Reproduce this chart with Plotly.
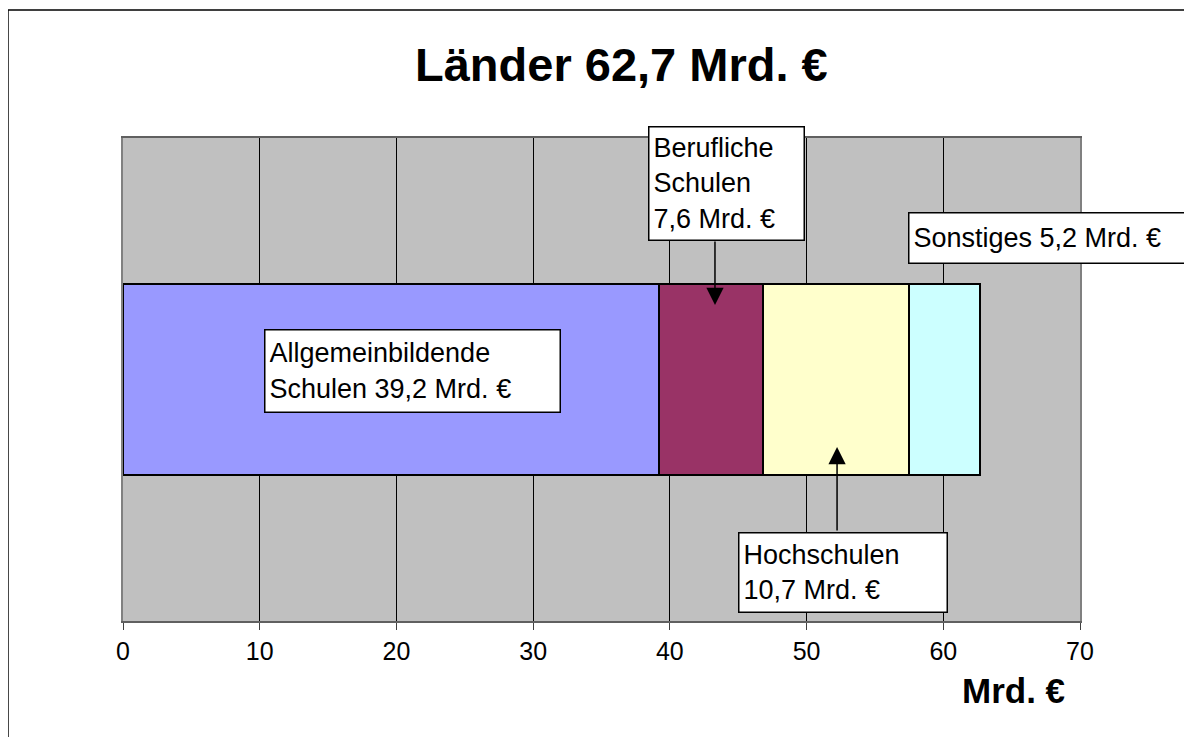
import plotly.graph_objects as go

# ---- data ----
row_label = ["Länder"]
segments = ["Allgemeinbildende Schulen", "Berufliche Schulen", "Hochschulen", "Sonstiges"]
values = [39.2, 7.6, 10.7, 5.2]
colors = ["#9999FF", "#993366", "#FFFFCC", "#CCFFFF"]
label_texts = [
    "Allgemeinbildende<br>Schulen 39,2 Mrd. €",
    "Berufliche<br>Schulen<br>7,6 Mrd. €",
    "Hochschulen<br>10,7 Mrd. €",
    "Sonstiges 5,2 Mrd. €",
]
title_text = "Länder 62,7 Mrd. €"
axis_title = "Mrd. €"
x_ticks = [0, 10, 20, 30, 40, 50, 60, 70]

FONT = "Liberation Sans, Arial, sans-serif"

fig = go.Figure()
for name, v, c in zip(segments, values, colors):
    fig.add_trace(go.Bar(
        y=row_label, x=[v], name=name, orientation="h",
        marker=dict(color=c, line=dict(color="black", width=2)),
        hoverinfo="x+name",
    ))

# label boxes: (x, y, xanchor, width, height)
box_specs = [
    (21.21, 0.0186, "center", 286, 73),
    (44.11, 0.4068, "center", 146, 104),
    (52.70, -0.3986, "center", 199, 70),
    (57.42, 0.294, "left", 300, 41),
]
annotations = []
for txt, (bx, by, xa, w, h) in zip(label_texts, box_specs):
    annotations.append(dict(
        x=bx, y=by, xref="x", yref="y", text=txt, showarrow=False,
        xanchor=xa, yanchor="middle", align="left", valign="middle",
        width=w, height=h, bgcolor="white", bordercolor="black",
        borderwidth=1.5, borderpad=4,
        font=dict(family=FONT, size=27, color="black"),
    ))

# arrows (tip, tail)
arrow_specs = [
    (43.30, 0.1542, 43.30, 0.2888),
    (52.23, -0.1398, 52.23, -0.3157),
]
for x, y, ax, ay in arrow_specs:
    annotations.append(dict(
        x=x, y=y, ax=ax, ay=ay, xref="x", yref="y", axref="x", ayref="y",
        text="", showarrow=True, arrowhead=2, arrowsize=2.3, arrowwidth=1.5,
        arrowcolor="black", standoff=0, startstandoff=0,
    ))

# title
annotations.append(dict(
    x=0.5204, y=1.153, xref="paper", yref="paper", text="<b>" + title_text + "</b>",
    showarrow=False, xanchor="center", yanchor="middle",
    font=dict(family=FONT, size=47, color="black"),
))
# axis title
annotations.append(dict(
    x=0.930, y=-0.143, xref="paper", yref="paper", text="<b>" + axis_title + "</b>",
    showarrow=False, xanchor="center", yanchor="middle",
    font=dict(family=FONT, size=35, color="black"),
))

fig.update_layout(
    width=1184, height=729,
    margin=dict(l=115, r=112, t=130, b=116),
    paper_bgcolor="white", plot_bgcolor="#C0C0C0",
    barmode="stack", bargap=0.605, showlegend=False,
    annotations=annotations,
    shapes=[dict(type="rect", xref="paper", yref="paper",
                 x0=-0.1202, x1=1.3, y0=-0.4, y1=1.265,
                 line=dict(color="black", width=1.5), layer="below")],
    font=dict(family=FONT, color="black"),
)
fig.update_xaxes(
    range=[0, 70], tickvals=x_ticks, ticktext=[str(t) for t in x_ticks],
    showgrid=True, gridcolor="black", gridwidth=1.2,
    zeroline=False, showline=True, linecolor="#606060", linewidth=2, mirror=True,
    ticks="outside", ticklen=7, tickcolor="#404040", tickwidth=1,
    tickfont=dict(family=FONT, size=25, color="black"),
)
fig.update_yaxes(
    type="category", range=[-0.5, 0.5], showticklabels=False, showgrid=False,
    zeroline=False, showline=True, linecolor="#808080", linewidth=2, mirror=True,
)

fig.write_html("out.html")
